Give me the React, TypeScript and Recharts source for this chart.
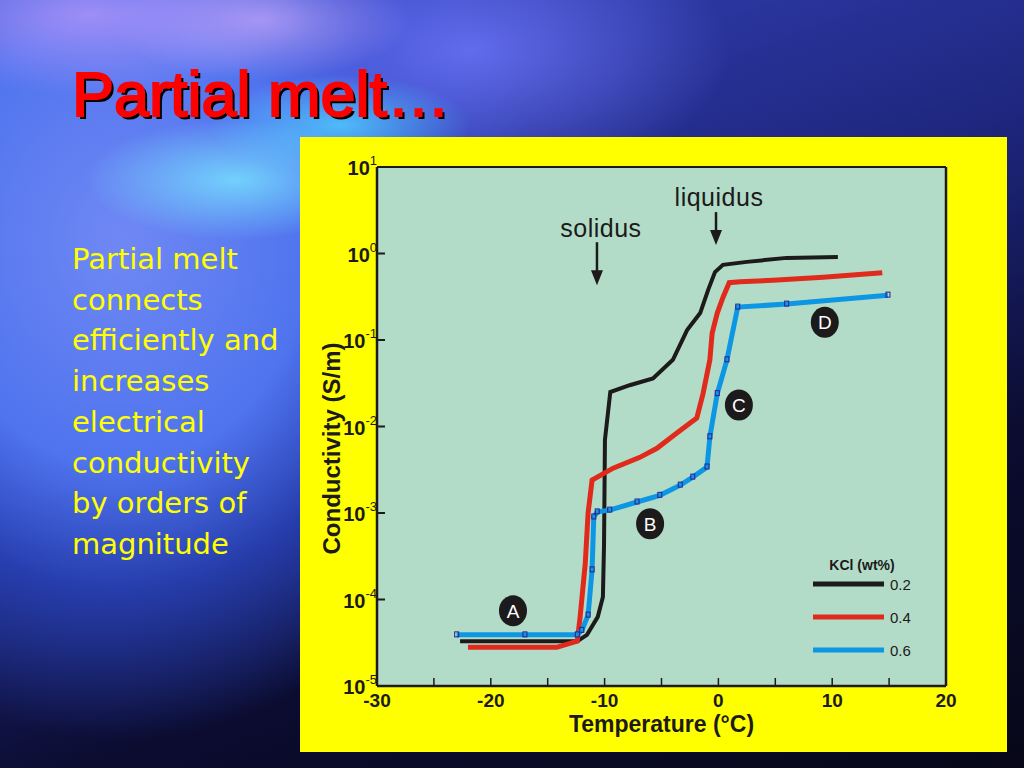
import {
  LineChart,
  Line,
  XAxis,
  YAxis,
  CartesianGrid,
  ReferenceLine,
  ReferenceDot,
  Legend,
} from "recharts";

// axis ticks
const xTicks = [-30, -25, -20, -15, -10, -5, 0, 5, 10, 15, 20];
const yTicks = [1e-5, 1e-4, 1e-3, 1e-2, 1e-1, 1, 10];
const yExponents = ["-5", "-4", "-3", "-2", "-1", "0", "1"];

// KCl 0.2 wt%
const tempBlack = [-22.7, -17.4, -12.4, -11.55, -10.6, -10.15, -10.05, -9.97, -9.5, -7.8, -5.75, -4.0, -2.75, -1.6, -0.9, -0.3, 0.4, 2.5, 6.0, 10.5];
const condBlack = [3.3e-5, 3.3e-5, 3.3e-5, 3.9e-5, 6.3e-5, 1.07e-4, 4.3e-4, 7.0e-3, 2.5e-2, 3.0e-2, 3.6e-2, 5.9e-2, 0.13, 0.205, 0.38, 0.61, 0.74, 0.8, 0.89, 0.91];

// KCl 0.4 wt%
const tempRed = [-22.0, -14.2, -12.4, -12.15, -11.7, -11.45, -11.1, -9.25, -6.9, -5.4, -3.65, -1.9, -1.35, -0.75, -0.55, -0.1, 0.4, 0.95, 1.9, 4.8, 9.2, 14.4];
const condRed = [2.8e-5, 2.8e-5, 3.3e-5, 6.3e-5, 2.6e-4, 1.0e-3, 2.4e-3, 3.3e-3, 4.4e-3, 5.6e-3, 8.4e-3, 1.25e-2, 2.4e-2, 5.9e-2, 0.12, 0.205, 0.31, 0.46, 0.47, 0.49, 0.53, 0.6];

// KCl 0.6 wt%
const tempBlue = [-23.0, -17.0, -12.4, -12.0, -11.45, -11.1, -10.95, -10.65, -9.55, -7.15, -5.15, -3.35, -2.25, -1.0, -0.75, -0.1, 0.75, 1.7, 6.0, 14.9];
const condBlue = [3.9e-5, 3.9e-5, 3.9e-5, 4.4e-5, 6.6e-5, 2.2e-4, 9.0e-4, 1.03e-3, 1.08e-3, 1.34e-3, 1.6e-3, 2.1e-3, 2.6e-3, 3.4e-3, 7.6e-3, 2.4e-2, 5.9e-2, 0.24, 0.26, 0.33];

// region markers A-D
const markerNames = ["A", "B", "C", "D"];
const markerTemps = [-18.05, -6.0, 1.8, 9.35];
const markerConds = [7.4e-5, 7.5e-4, 1.77e-2, 0.16];

const toSeries = (ts: number[], cs: number[]) => ts.map((t, i) => ({ t, c: cs[i] }));
const blackData = toSeries(tempBlack, condBlack);
const redData = toSeries(tempRed, condRed);
const blueData = toSeries(tempBlue, condBlue);

const FONT = "'Liberation Sans', Arial, sans-serif";
const INK = "#1c1a1a";

const XTick = (props: any) => {
  const { x, y, payload } = props;
  const v = payload.value;
  return (
    <g>
      {v > -30 && v < 20 && <line x1={x} x2={x} y1={y} y2={y - 8} stroke={INK} strokeWidth={1.5} />}
      {v % 10 === 0 && (
        <text x={x} y={y + 21} textAnchor="middle" fontFamily={FONT} fontWeight="bold" fontSize={19} fill={INK}>
          {v}
        </text>
      )}
    </g>
  );
};

const YTick = (props: any) => {
  const { x, y, payload, index } = props;
  const exp = yExponents[yTicks.indexOf(payload.value)] ?? yExponents[index];
  return (
    <g>
      {payload.value > 1e-5 && payload.value < 10 && (
        <line x1={x} x2={x + 8} y1={y} y2={y} stroke={INK} strokeWidth={2} />
      )}
      <text x={x} y={y + 8} textAnchor="end" fontFamily={FONT} fontWeight="bold" fontSize={20} fill={INK}>
        10
        <tspan dy={-10} fontSize={13} fontWeight="normal">{exp}</tspan>
      </text>
    </g>
  );
};

const xTitle = (props: any) => {
  const vb = props.viewBox;
  return (
    <text x={vb.x + vb.width / 2} y={vb.y + 46} textAnchor="middle" fontFamily={FONT} fontWeight="bold" fontSize={23} fill={INK}>
      Temperature (°C)
    </text>
  );
};

const yTitle = (props: any) => {
  const vb = props.viewBox;
  const x = vb.x + 23;
  const y = vb.y + vb.height / 2 + 22;
  return (
    <text x={x} y={y} transform={`rotate(-90, ${x}, ${y})`} textAnchor="middle" fontFamily={FONT} fontWeight="bold" fontSize={24} fill={INK}>
      Conductivity (S/m)
    </text>
  );
};

const Marker = (props: any) => {
  const { cx, cy, name } = props;
  return (
    <g>
      <ellipse cx={cx} cy={cy} rx={14} ry={15.5} fill={INK} />
      <text x={cx} y={cy + 7} textAnchor="middle" fontFamily={FONT} fontSize={19} fill="#ffffff">
        {name}
      </text>
    </g>
  );
};

const Arrow = (props: any) => {
  const { cx, cy, text, len, dx, gap } = props;
  return (
    <g>
      <text x={cx + dx} y={cy - len - gap} textAnchor="middle" fontFamily={FONT} fontSize={25} letterSpacing={0.5} fill={INK}>
        {text}
      </text>
      <line x1={cx} x2={cx} y1={cy - len} y2={cy - 12} stroke={INK} strokeWidth={2.5} />
      <polygon points={`${cx - 6},${cy - 15} ${cx + 6},${cy - 15} ${cx},${cy}`} fill={INK} />
    </g>
  );
};

const BlueDot = (props: any) => {
  const { cx, cy, index } = props;
  return <rect key={index} x={cx - 2} y={cy - 3} width={4} height={5} fill="none" stroke="#2a1f8c" strokeWidth={1} />;
};

const renderLegend = (props: any) => {
  const { payload } = props;
  return (
    <svg width={140} height={112} style={{ display: "block" }}>
      <text x={57} y={22} textAnchor="middle" fontFamily={FONT} fontWeight="bold" fontSize={14} fill={INK}>
        KCl (wt%)
      </text>
      {(payload || []).map((entry: any, i: number) => {
        const y = 36 + i * 33;
        return (
          <g key={entry.value}>
            <line x1={8} x2={79} y1={y} y2={y} stroke={entry.color} strokeWidth={5} />
            <text x={85} y={y + 6} fontFamily={FONT} fontSize={15} fill={INK}>
              {entry.value}
            </text>
          </g>
        );
      })}
    </svg>
  );
};

const leftText = [
  "Partial melt",
  "connects",
  "efficiently and",
  "increases",
  "electrical",
  "conductivity",
  "by orders of",
  "magnitude",
];

const App = () => {
  return (
    <div
      style={{
        position: "absolute",
        left: 0,
        top: 0,
        width: 1024,
        height: 768,
        overflow: "hidden",
        background: [
          "radial-gradient(ellipse 150px 60px at 235px 180px, rgba(120,230,255,0.8), rgba(120,230,255,0))",
          "radial-gradient(ellipse 130px 50px at 340px 125px, rgba(80,210,255,0.8), rgba(80,210,255,0))",
          "radial-gradient(ellipse 220px 80px at 90px 15px, rgba(185,150,250,0.75), rgba(185,150,250,0))",
          "radial-gradient(ellipse 150px 60px at 260px 20px, rgba(200,170,250,0.7), rgba(200,170,250,0))",
          "radial-gradient(ellipse 260px 140px at 470px 50px, rgba(100,110,240,0.95), rgba(100,110,240,0))",
          "radial-gradient(ellipse 420px 500px at 120px 240px, #7088f4 0%, #4f74ee 45%, rgba(45,75,205,0.7) 70%, rgba(20,30,90,0) 100%)",
          "linear-gradient(160deg, #3a48c8 0%, #1c2478 45%, #0b0c30 70%, #070718 100%)",
        ].join(", "),
      }}
    >
      <div
        style={{
          position: "absolute",
          left: 72,
          top: 63,
          fontFamily: FONT,
          fontSize: 63,
          lineHeight: "62px",
          color: "#ff0000",
          WebkitTextStroke: "2px #ff0000",
          textShadow: "3px 3px 0 #000000",
          whiteSpace: "nowrap",
        }}
      >
        Partial melt…
      </div>
      <div
        style={{
          position: "absolute",
          left: 72,
          top: 239,
          fontFamily: "'DejaVu Sans', Verdana, sans-serif",
          fontSize: 29,
          lineHeight: "40.7px",
          color: "#ffff00",
          whiteSpace: "nowrap",
        }}
      >
        {leftText.map((line) => (
          <div key={line}>{line}</div>
        ))}
      </div>
      <div style={{ position: "absolute", left: 300, top: 137, width: 707, height: 615, background: "#ffff00" }}>
        <LineChart width={707} height={615} margin={{ top: 30, right: 61, bottom: 6, left: 17 }}>
          <CartesianGrid horizontal={false} vertical={false} fill="#b3dcc8" />
          <XAxis
            type="number"
            dataKey="t"
            domain={[-30, 20]}
            ticks={xTicks}
            interval={0}
            allowDataOverflow
            height={60}
            tickSize={0}
            tickMargin={0}
            tickLine={false}
            tick={XTick}
            axisLine={{ stroke: INK, strokeWidth: 2.5 }}
            label={{ content: xTitle }}
          />
          <YAxis
            type="number"
            scale="log"
            domain={[1e-5, 10]}
            ticks={yTicks}
            interval={0}
            allowDataOverflow
            width={60}
            tickSize={0}
            tickMargin={0}
            tickLine={false}
            tick={YTick}
            axisLine={{ stroke: INK, strokeWidth: 2.5 }}
            label={{ content: yTitle }}
          />
          <ReferenceLine y={10} stroke={INK} strokeWidth={2} />
          <ReferenceLine x={20} stroke={INK} strokeWidth={2.5} />
          <ReferenceDot
            x={-10.67}
            y={0.43}
            shape={(p: any) => <Arrow cx={p.cx} cy={p.cy} text="solidus" len={43} dx={4} gap={5} />}
          />
          <ReferenceDot
            x={-0.21}
            y={1.25}
            shape={(p: any) => <Arrow cx={p.cx} cy={p.cy} text="liquidus" len={33} dx={3} gap={6} />}
          />
          {markerNames.map((name, i) => (
            <ReferenceDot
              key={name}
              x={markerTemps[i]}
              y={markerConds[i]}
              shape={(p: any) => <Marker cx={p.cx} cy={p.cy} name={name} />}
            />
          ))}
          <Line
            data={blackData}
            dataKey="c"
            name="0.2"
            type="linear"
            stroke={INK}
            strokeWidth={4}
            dot={false}
            isAnimationActive={false}
          />
          <Line
            data={redData}
            dataKey="c"
            name="0.4"
            type="linear"
            stroke="#e02a1c"
            strokeWidth={5}
            dot={false}
            isAnimationActive={false}
          />
          <Line
            data={blueData}
            dataKey="c"
            name="0.6"
            type="linear"
            stroke="#0c96e4"
            strokeWidth={5}
            dot={BlueDot}
            isAnimationActive={false}
          />
          <Legend
            layout="vertical"
            align="center"
            verticalAlign="middle"
            content={renderLegend}
            wrapperStyle={{ left: 505, top: 411, width: 140, height: 112 }}
          />
        </LineChart>
      </div>
    </div>
  );
};

export default App;
